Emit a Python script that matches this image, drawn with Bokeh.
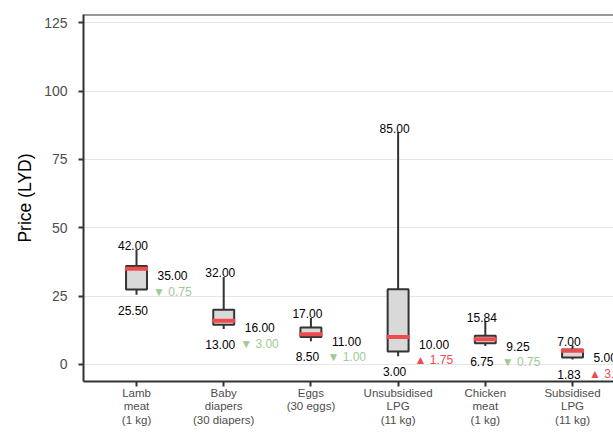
from bokeh.plotting import figure
from bokeh.models import ColumnDataSource, FixedTicker, Span, Range1d
from bokeh.core.properties import value
from bokeh.embed import file_html
from bokeh.resources import INLINE

# ---- data ----
categories = ["Lamb\nmeat\n(1 kg)", "Baby\ndiapers\n(30 diapers)", "Eggs\n(30 eggs)",
              "Unsubsidised\nLPG\n(11 kg)", "Chicken\nmeat\n(1 kg)", "Subsidised\nLPG\n(11 kg)"]
mins = [25.50, 13.00, 8.50, 3.00, 6.75, 1.83]
q1s = [27.4, 14.5, 10.0, 4.75, 7.75, 2.5]
medians = [35.00, 16.00, 11.00, 10.00, 9.25, 5.00]
q3s = [36.0, 20.0, 13.5, 27.5, 10.5, 5.5]
maxs = [42.00, 32.00, 17.00, 85.00, 15.84, 7.00]
changes = [-0.75, -3.00, -1.00, 1.75, -0.75, 3.17]
y_ticks = [0, 25, 50, 75, 100, 125]

FONT = "Liberation Sans"
DARK = "#333333"
RED = "#EE4B4F"
GREEN = "#9CCB94"

pos = list(range(1, len(categories) + 1))
box_w = 0.24
med_w = 0.265

src = ColumnDataSource(dict(
    x=pos, lo=mins, q1=q1s, med=medians, q3=q3s, hi=maxs,
    xl=[p - med_w / 2 for p in pos], xr=[p + med_w / 2 for p in pos],
    hi_t=[f"{v:.2f}" for v in maxs], lo_t=[f"{v:.2f}" for v in mins],
    med_t=[f"{v:.2f}" for v in medians],
    ch_t=[("\u25B2 " if c > 0 else "\u25BC ") + f"{abs(c):.2f}" for c in changes],
    ch_c=[RED if c > 0 else GREEN for c in changes],
))

p = figure(width=613, height=433, output_backend="svg", toolbar_location=None,
           x_range=Range1d(0.392, 6.470), y_range=Range1d(-6.25, 128),
           min_border_left=83, min_border_right=0, min_border_top=14, min_border_bottom=52)
p.outline_line_color = None
p.background_fill_color = "white"
p.border_fill_color = "white"

# axes
p.xaxis.ticker = FixedTicker(ticks=pos)
p.xaxis.major_label_overrides = {i: c for i, c in zip(pos, categories)}
p.xaxis.major_label_text_font = FONT
p.xaxis.major_label_text_font_size = "11.5px"
p.xaxis.major_label_text_color = "#4D4D4D"
p.xaxis.major_label_text_line_height = 1.15
p.xaxis.major_label_standoff = 0
p.xaxis.minor_tick_line_color = None
p.xaxis.major_tick_in = 0
p.xaxis.major_tick_out = 5
p.xaxis.major_tick_line_width = 2
p.xaxis.major_tick_line_color = DARK
p.xaxis.axis_line_width = 2
p.xaxis.axis_line_color = DARK

p.yaxis.ticker = FixedTicker(ticks=y_ticks)
p.yaxis.major_label_text_font = FONT
p.yaxis.major_label_text_font_size = "14px"
p.yaxis.major_label_text_color = "#4D4D4D"
p.yaxis.major_label_standoff = 11
p.yaxis.minor_tick_line_color = None
p.yaxis.major_tick_in = 0
p.yaxis.major_tick_out = 5
p.yaxis.major_tick_line_width = 2
p.yaxis.major_tick_line_color = DARK
p.yaxis.axis_line_width = 2
p.yaxis.axis_line_color = DARK
p.yaxis.axis_label = "Price (LYD)"
p.yaxis.axis_label_text_font = FONT
p.yaxis.axis_label_text_font_size = "17.5px"
p.yaxis.axis_label_text_font_style = "normal"
p.yaxis.axis_label_text_color = "black"
p.yaxis.axis_label_standoff = 6

p.xgrid.grid_line_color = None
p.ygrid.grid_line_color = "#E6E6E6"
p.ygrid.grid_line_width = 1

p.add_layout(Span(location=128, dimension="width", line_color=DARK, line_width=2))

# whiskers
p.segment(x0="x", y0="q3", x1="x", y1="hi", source=src, line_color=DARK, line_width=2)
p.segment(x0="x", y0="lo", x1="x", y1="q1", source=src, line_color=DARK, line_width=2)
# boxes
p.vbar(x="x", width=box_w, bottom="q1", top="q3", source=src,
       fill_color="#D9D9D9", line_color=DARK, line_width=2)
# medians
p.segment(x0="xl", y0="med", x1="xr", y1="med", source=src,
          line_color=RED, line_width=4, line_cap="butt")

# labels
common = dict(source=src, text_font=value(FONT), text_font_size="12px")
p.text(x="x", y="hi", text="hi_t", text_align="center", text_baseline="alphabetic",
       x_offset=-3.5, y_offset=-4, text_color="black", **common)
p.text(x="x", y="lo", text="lo_t", text_align="center", text_baseline="alphabetic",
       x_offset=-3.5, y_offset=15.5, text_color="black", **common)
p.text(x="x", y="med", text="med_t", text_align="left", text_baseline="alphabetic",
       x_offset=21, y_offset=7, text_color="black", **common)
p.text(x="x", y="med", text="ch_t", text_align="left", text_baseline="alphabetic",
       x_offset=16.5, y_offset=23, text_color="ch_c", **common)

open("out.html", "w").write(file_html(p, INLINE))
